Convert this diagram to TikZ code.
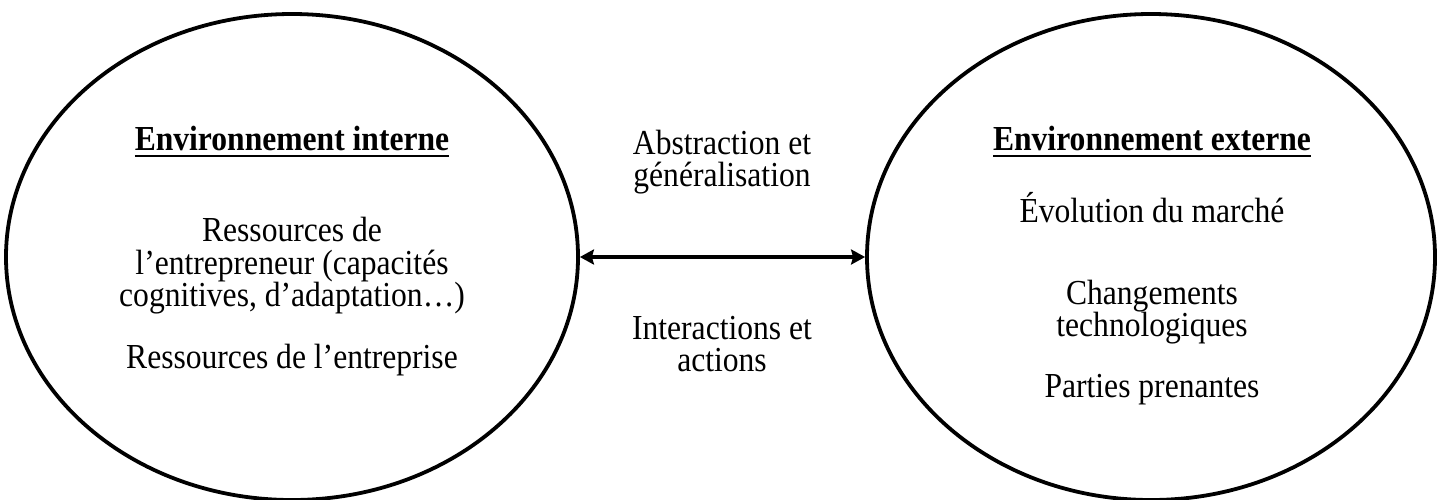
\documentclass[tikz,border=0pt]{standalone}
\usepackage{fontspec}
\setmainfont[FakeStretch=0.9]{Liberation Serif}
\usetikzlibrary{ arrows.meta
               , positioning
               , shapes.geometric
               }
\newcommand{\ulhead}[1]{\setbox0=\hbox{#1}\leavevmode\rlap{\rule[-3.2pt]{\wd0}{1.3pt}}\box0}

\begin{document}
\begin{tikzpicture}
      [ x=0.5pt, y=-0.5pt
      , sphere/.style={ellipse, draw, line width=1.9pt, minimum width=286pt, minimum height=243pt, inner sep=0pt}
      , txt/.style={align=center, font=\fontsize{17.55}{16.3}\selectfont}
      , head/.style={align=center, font=\fontsize{17.55}{16.3}\selectfont\bfseries}
      , link/.style={draw, line width=2pt, {Stealth[length=7pt,width=7.5pt,inset=1pt]}-{Stealth[length=7pt,width=7.5pt,inset=1pt]}}
      ]
    \useasboundingbox (0,0) rectangle (1444,499);

    \node[sphere] (I) at (292,257) {};
    \node[sphere, minimum width=284pt] (E) at (1151,257) {};

    \node[head] (IT) at (292,142) {\ulhead{Environnement interne}};
    \node[txt] (IR) at (292,266) {Ressources de\\l’entrepreneur (capacités\\cognitives, d’adaptation…)};
    \node[txt] (IE) at (292,360) {Ressources de l’entreprise};

    \node[head] (ET) at (1152,142) {\ulhead{Environnement externe}};
    \node[txt] (EM) at (1152,208) {Évolution du marché};
    \node[txt] (EC) at (1152,312) {Changements\\technologiques};
    \node[txt] (EP) at (1152,390) {Parties prenantes};

    \draw[link] (I) -- (E);

    \node[txt] (AG) at (722,162) {Abstraction et\\généralisation};
    \node[txt] (IA) at (722,344) {Interactions et\\actions};
\end{tikzpicture}
\end{document}
